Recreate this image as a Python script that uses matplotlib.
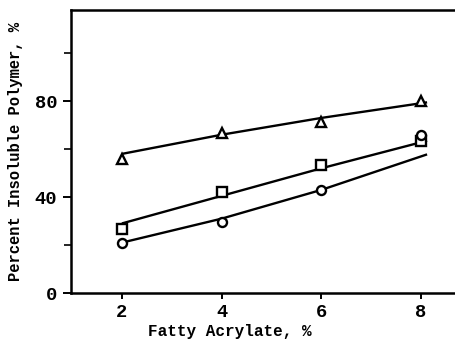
import matplotlib
matplotlib.use("Agg")
import matplotlib.pyplot as plt
from matplotlib.ticker import FixedLocator, NullFormatter

# Fatty acrylate content (%)
acrylate = [2, 4, 6, 8]

# Measured insoluble polymer (%)
tri_pts = [56, 66.7, 71.3, 80]
sq_pts = [26.5, 42.2, 53.5, 63.3]
circ_pts = [21, 29.6, 42.8, 66]

# Fitted trend lines
fit_x = [2, 4, 6, 8.12]
tri_fit = [58, 66, 73, 79.5]
sq_fit = [29, 40.5, 52, 63.5]
circ_fit = [21, 31, 43, 57.8]

y_major = [0, 40, 80]
y_minor = [20, 60, 100]

W, H = 456, 339
fig = plt.figure(figsize=(W / 100, H / 100), dpi=100)
ax_left, ax_bottom, ax_w, ax_h = 71, 46, W - 71 + 5, 283
ax = fig.add_axes([ax_left / W, ax_bottom / H, ax_w / W, ax_h / H])

for fit, pts, m in [(tri_fit, tri_pts, "^"), (sq_fit, sq_pts, "s"), (circ_fit, circ_pts, "o")]:
    ax.plot(fit_x, fit, color="black", lw=1.7, solid_capstyle="butt")
    ax.plot(acrylate, pts, ls="none", marker=m, ms=6.5, mfc="white",
            mec="black", mew=1.7)

ax.set_xlim(0.98, 8.8)
ax.set_ylim(0, 118)
ax.set_xticks(acrylate)
ax.set_xticklabels([str(v) for v in acrylate])
ax.yaxis.set_major_locator(FixedLocator(y_major))
ax.yaxis.set_minor_locator(FixedLocator(y_minor))
ax.yaxis.set_minor_formatter(NullFormatter())

for s in ax.spines.values():
    s.set_linewidth(1.8)
ax.spines["right"].set_visible(False)

tick_font = dict(family="Liberation Mono", weight="bold", size=13.5)
ax.tick_params(axis="y", which="major", length=6, width=1.4, pad=4)
ax.tick_params(axis="y", which="minor", length=5, width=1.2)
ax.tick_params(axis="x", which="major", length=4, width=1.4, pad=4)
for lab in ax.get_xticklabels() + ax.get_yticklabels():
    lab.set_fontproperties(tick_font)

ax.set_xlabel("Fatty Acrylate, %", family="Liberation Mono", fontweight="bold",
              fontsize=11.5, va="baseline")
ax.xaxis.set_label_coords((230 - ax_left) / ax_w, -(336 - 293) / ax_h)
ax.set_ylabel("Percent Insoluble Polymer, %", family="Liberation Mono",
              fontweight="bold", fontsize=11.2, labelpad=8)

fig.savefig("out.png", dpi=100)
